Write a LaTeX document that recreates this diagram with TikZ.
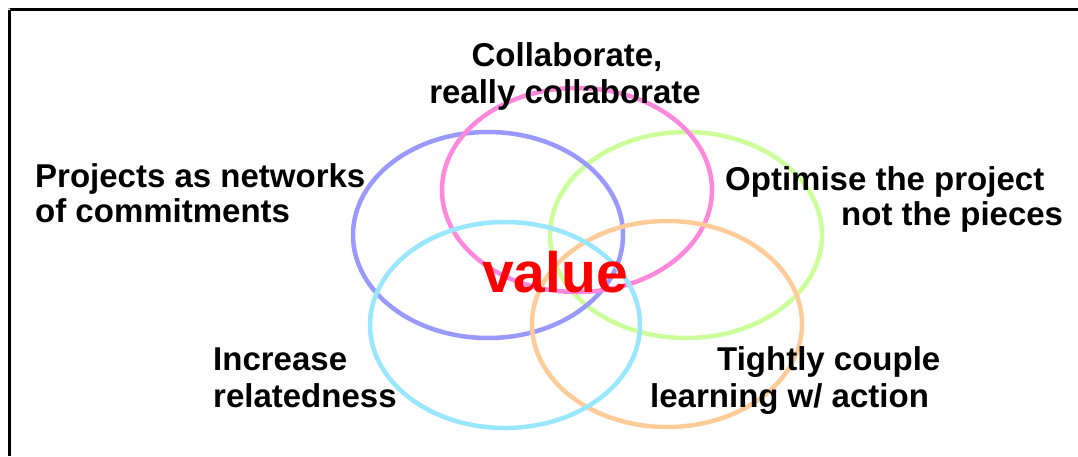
\documentclass[tikz,border=0pt]{standalone}
\usepackage{fontspec}
\setmainfont{Liberation Sans}
\definecolor{cpink}{RGB}{255,136,221}
\definecolor{cblue}{RGB}{153,153,255}
\definecolor{cgreen}{RGB}{204,255,153}
\definecolor{ccyan}{RGB}{153,230,255}
\definecolor{corange}{RGB}{255,204,153}
\tikzset{
  ring/.style={line width=4.5pt},
  lbl/.style={inner sep=0pt, font=\fontsize{33}{37}\selectfont\bfseries, text=black},
  core/.style={inner sep=0pt, font=\fontsize{57}{60}\selectfont\bfseries, text=red}
}
\begin{document}
\begin{tikzpicture}[x=1pt,y=-1pt]
\useasboundingbox (0,0) rectangle (1078,456);
\fill[white] (0,0) rectangle (1078,456);
% frame
\draw[gray!70, line width=1pt] (8,8) -- (1078,8);
\draw[black, line width=2.5pt] (9.5,9.5) -- (1078,9.5);
\draw[black, line width=2.5pt] (9.5,9.5) -- (9.5,456);
% rings
\draw[ring, cgreen] (686,235) ellipse [x radius=136, y radius=103];
\draw[ring, cblue] (488,235) ellipse [x radius=135, y radius=103];
\draw[ring, cpink] (577,190) ellipse [x radius=135, y radius=102];
\draw[ring, corange] (667,324) ellipse [x radius=135, y radius=103];
\draw[ring, ccyan] (505,325) ellipse [x radius=135, y radius=103];
% labels
\node[lbl, anchor=base] (c1) at (567,66) {Collaborate,};
\node[lbl, anchor=base] (c2) at (565,103) {really collaborate};
\node[lbl, anchor=base west] (p1) at (35,187) {Projects as networks};
\node[lbl, anchor=base west] (p2) at (35,222) {of commitments};
\node[lbl, anchor=base west] (o1) at (725,190) {Optimise the project};
\node[lbl, anchor=base west] (o2) at (841,225) {not the pieces};
\node[lbl, anchor=base west] (i1) at (213,370) {Increase};
\node[lbl, anchor=base west] (i2) at (213,407) {relatedness};
\node[lbl, anchor=base west] (t1) at (717,370) {Tightly couple};
\node[lbl, anchor=base west] (t2) at (650,407) {learning w/ action};
\node[core, anchor=base] (v) at (555,292) {value};
\end{tikzpicture}
\end{document}
